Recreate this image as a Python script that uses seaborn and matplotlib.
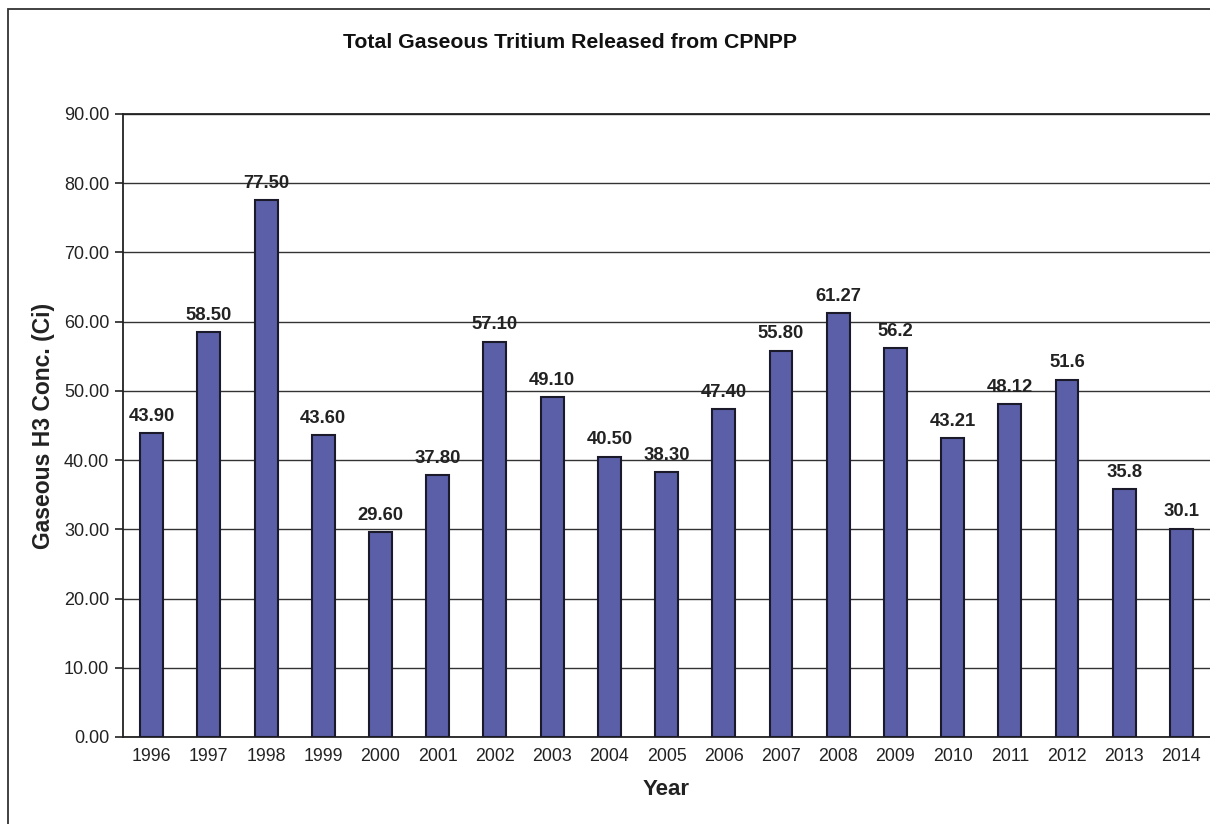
import matplotlib
matplotlib.use("Agg")
import matplotlib.pyplot as plt
import seaborn as sns
import pandas as pd
from matplotlib.patches import Rectangle

years = ["1996", "1997", "1998", "1999", "2000", "2001", "2002", "2003", "2004", "2005",
         "2006", "2007", "2008", "2009", "2010", "2011", "2012", "2013", "2014"]
values = [43.90, 58.50, 77.50, 43.60, 29.60, 37.80, 57.10, 49.10, 40.50, 38.30,
          47.40, 55.80, 61.27, 56.2, 43.21, 48.12, 51.6, 35.8, 30.1]
labels = ["43.90", "58.50", "77.50", "43.60", "29.60", "37.80", "57.10", "49.10", "40.50", "38.30",
          "47.40", "55.80", "61.27", "56.2", "43.21", "48.12", "51.6", "35.8", "30.1"]
yticks = [0, 10, 20, 30, 40, 50, 60, 70, 80, 90]

sns.set_style("white")
plt.rcParams['font.family'] = ['Liberation Sans', 'DejaVu Sans']

df = pd.DataFrame({"Year": years, "Value": values})

fig = plt.figure(figsize=(12.1, 8.24), dpi=100)
ax = fig.add_axes([0.1017, 0.1056, 0.8983, 0.7561])

sns.barplot(data=df, x="Year", y="Value", ax=ax, color="#5a5fa8", saturation=1,
            width=0.4, edgecolor="#1a1a2a", linewidth=1.5, zorder=3)

ax.set_xlim(-0.5, len(years) - 0.5)
ax.set_ylim(0, 90)
ax.set_yticks(yticks)
ax.set_yticklabels([f"{v:.2f}" for v in yticks], fontsize=13, color="#222222")
ax.tick_params(axis="x", labelsize=12.8, labelcolor="#222222")
ax.yaxis.grid(True, color="#333333", linewidth=1.0, zorder=0)
ax.set_axisbelow(True)

ax.set_xticks(range(len(years)))
ax.set_xticklabels(years)
ax.tick_params(axis="x", length=0, pad=8)
ax.set_xticks([i - 0.5 for i in range(len(years) + 1)], minor=True)
ax.tick_params(axis="x", which="minor", length=6, width=1.2, color="#222222", direction="out")
ax.tick_params(axis="y", length=6, width=1.2, color="#222222", direction="out", left=True, pad=4)

for side in ["left", "bottom", "top"]:
    ax.spines[side].set_visible(True)
    ax.spines[side].set_color("#222222")
    ax.spines[side].set_linewidth(1.3)
ax.spines["right"].set_visible(False)

for i, (v, lab) in enumerate(zip(values, labels)):
    ax.annotate(lab, (i, v), xytext=(0, 6), textcoords="offset points",
                ha="center", va="bottom", fontsize=13.3, fontweight="bold", color="#222222")

ax.set_xlabel("Year", fontsize=16, fontweight="bold", color="#222222", labelpad=10)
ax.set_ylabel("Gaseous H3 Conc. (Ci)", fontsize=16.5, fontweight="bold", color="#222222", labelpad=6)

fig.text(0.471, 0.949, "Total Gaseous Tritium Released from CPNPP", ha="center", va="center",
         fontsize=15.3, fontweight="bold", color="#111111")

fig.patches.append(Rectangle((8 / 1210, -0.05), 1.2, 1.05 - 9 / 824, transform=fig.transFigure,
                             fill=False, edgecolor="#333333", linewidth=1.3))

fig.savefig("out.png", dpi=100, facecolor="white")
